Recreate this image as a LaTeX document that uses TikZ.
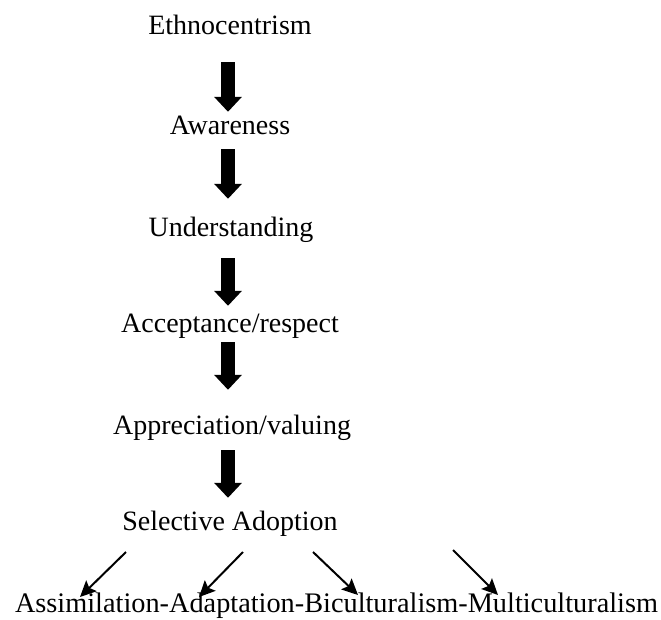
\documentclass[tikz,border=0pt]{standalone}
\usepackage{fontspec}
\setmainfont{Liberation Serif}
\usetikzlibrary{arrows.meta}
\begin{document}
\begin{tikzpicture}[x=1pt,y=-1pt,
  lbl/.style={font=\fontsize{28}{30}\selectfont, inner sep=0pt, text height=19pt, text depth=6pt, anchor=base},
  blockarrow/.style 2 args={line width=14pt, -{Triangle[length=15pt,width=27pt]}, shorten <=#1, shorten >=#2},
  thinarrow/.style={line width=2pt, -{Stealth[length=16pt,width=15pt,inset=3pt]}}]
\useasboundingbox[fill=white] (0,0) rectangle (661,620);
\node[lbl] (e) at (230,35) {Ethnocentrism};
\node[lbl] (aw) at (230,135) {Awareness};
\node[lbl] (u) at (231,237) {Understanding};
\node[lbl] (ac) at (230,332) {Acceptance/respect};
\node[lbl] (ap) at (232,434) {Appreciation/valuing};
\node[lbl] (s) at (230,530) {Selective Adoption};
\node[lbl, font=\fontsize{28.3}{30}\selectfont] (b) at (336.5,612) {Assimilation-Adaptation-Biculturalism-Multiculturalism};
\draw[blockarrow={21pt}{4pt}] (e.south -| 228,0) -- (aw.north -| 228,0);
\draw[blockarrow={8pt}{19pt}] (aw.south -| 228,0) -- (u.north -| 228,0);
\draw[blockarrow={15pt}{7pt}] (u.south -| 228,0) -- (ac.north -| 228,0);
\draw[blockarrow={4pt}{25pt}] (ac.south -| 228,0) -- (ap.north -| 228,0);
\draw[blockarrow={10pt}{13pt}] (ap.south -| 228,0) -- (s.north -| 228,0);
\coordinate (d1a) at (126,552); \coordinate (d1b) at (80,597);
\coordinate (d2a) at (243,552); \coordinate (d2b) at (199,597);
\coordinate (d3a) at (313,552); \coordinate (d3b) at (358,595);
\coordinate (d4a) at (453,550); \coordinate (d4b) at (498,595);
\draw[thinarrow] (d1a) -- (d1b);
\draw[thinarrow] (d2a) -- (d2b);
\draw[thinarrow] (d3a) -- (d3b);
\draw[thinarrow] (d4a) -- (d4b);
\end{tikzpicture}
\end{document}
